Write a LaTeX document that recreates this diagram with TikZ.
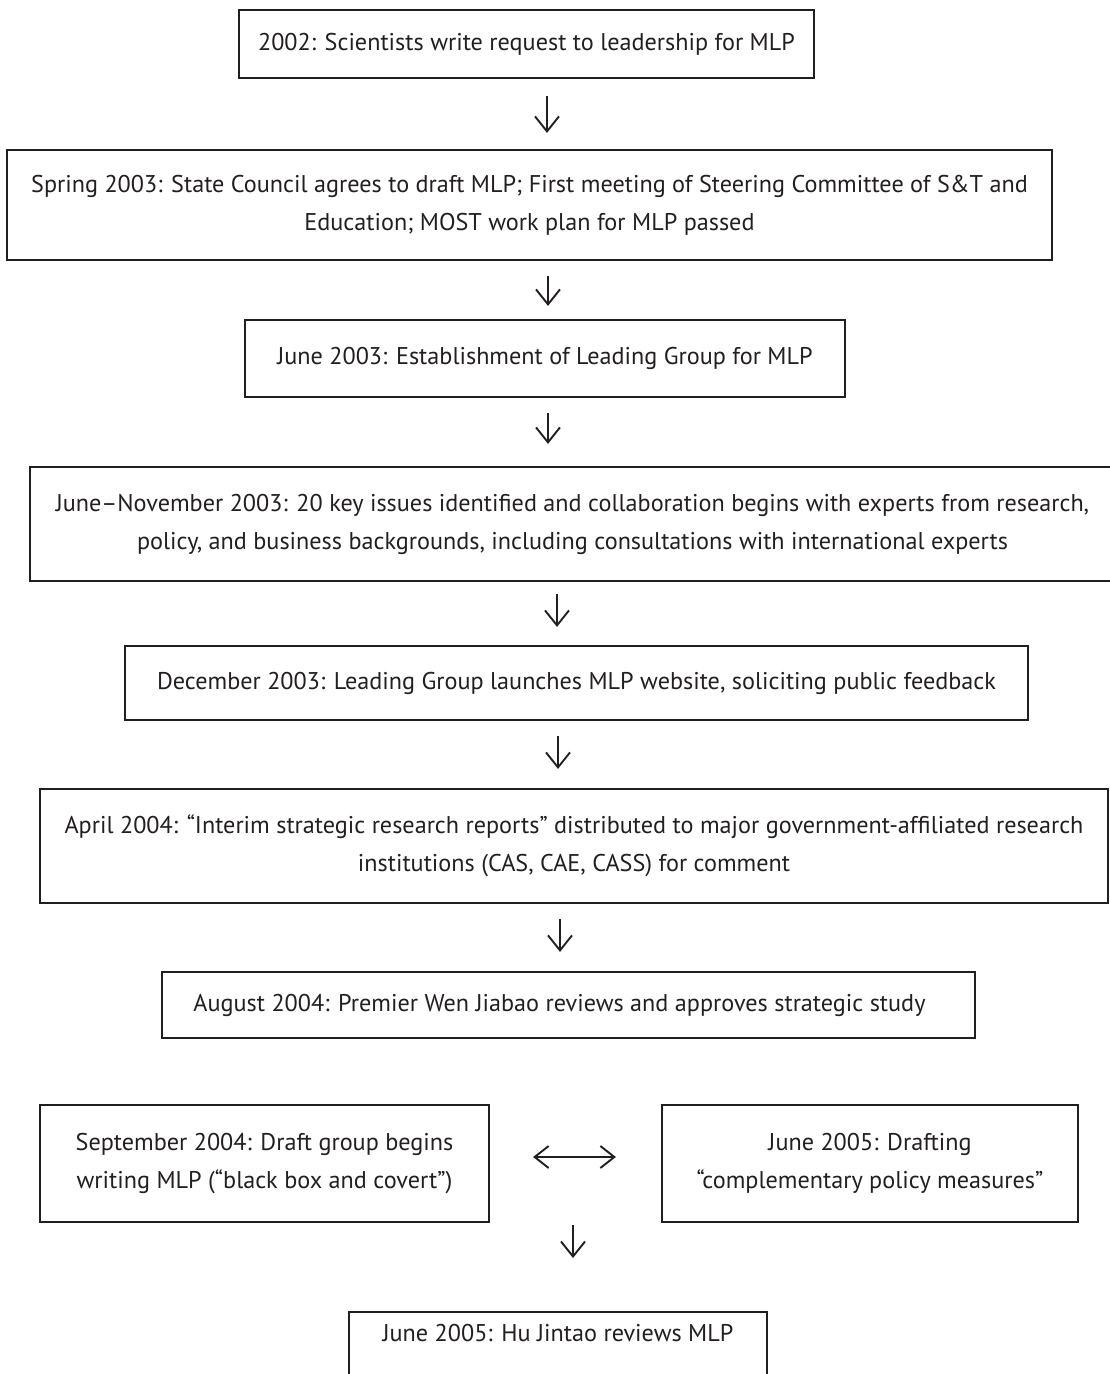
\documentclass[tikz,border=0pt]{standalone}
\usepackage{fontspec}
\setmainfont{PT Sans}
\usetikzlibrary{arrows.meta}
\definecolor{ink}{HTML}{231F20}
\begin{document}
\begin{tikzpicture}[x=1pt,y=-1pt,
  box/.style={draw=ink, line width=2.2pt, text=ink, align=center, inner sep=0pt,
    font=\fontsize{24.2}{38}\selectfont},
  arr/.style={draw=ink, line width=1.9pt, -{Straight Barb[length=15pt,width=24pt,line width=1.9pt]},
    shorten <=15pt, shorten >=18pt},
  dbl/.style={draw=ink, line width=1.9pt, {Straight Barb[length=14pt,width=22pt,line width=1.9pt]}-{Straight Barb[length=14pt,width=22pt,line width=1.9pt]}}
]
\useasboundingbox (0,0) rectangle (1110,1374);
\fill[white] (0,0) rectangle (1110,1374);

\node[box, minimum width=575pt, minimum height=68pt] (b1) at (526.5,44)
  {2002: Scientists write request to leadership for MLP};
\node[box, minimum width=1045pt, minimum height=110pt] (b2) at (529.5,205)
  {Spring 2003: State Council agrees to draft MLP; First meeting of Steering Committee of S\&T and\\Education; MOST work plan for MLP passed};
\node[box, minimum width=600pt, minimum height=77pt] (b3) at (545,358.5)
  {June 2003: Establishment of Leading Group for MLP};
\node[box, minimum width=1085pt, minimum height=114pt] (b4) at (572.5,524)
  {June–November 2003: 20 key issues identified and collaboration begins with experts from research,\\policy, and business backgrounds, including consultations with international experts};
\node[box, minimum width=903pt, minimum height=74pt] (b5) at (576.5,683)
  {December 2003: Leading Group launches MLP website, soliciting public feedback};
\node[box, minimum width=1068pt, minimum height=114pt] (b6) at (574,846)
  {April 2004: “Interim strategic research reports” distributed to major government-affiliated research\\institutions (CAS, CAE, CASS) for comment};
\node[box, minimum width=813pt, minimum height=66pt] (b7) at (568.5,1005)
  {August 2004: Premier Wen Jiabao reviews and approves strategic study\hspace*{18pt}};
\node[box, minimum width=449pt, minimum height=117pt] (b8) at (264.5,1163.5)
  {September 2004: Draft group begins\\writing MLP (“black box and covert”)};
\node[box, minimum width=416pt, minimum height=117pt] (b9) at (870,1163.5)
  {June 2005: Drafting\\“complementary policy measures”};
\node[box, anchor=north, minimum width=418pt, text height=29pt, text depth=70pt] (b10) at (558,1311)
  {June 2005: Hu Jintao reviews MLP};

\coordinate (x1) at (547,0);
\coordinate (x2) at (548,0);
\coordinate (x4) at (557,0);
\coordinate (x5) at (558,0);
\coordinate (x6) at (560,0);
\coordinate (xm) at (573,0);

\draw[arr, shorten <=17pt, shorten >=16pt] (b1.south -| x1) -- (b2.north -| x1);
\draw[arr, shorten <=15pt, shorten >=13pt] (b2.south -| x2) -- (b3.north -| x2);
\draw[arr, shorten <=15pt, shorten >=22pt] (b3.south -| x2) -- (b4.north -| x2);
\draw[arr, shorten <=12pt, shorten >=18pt] (b4.south -| x4) -- (b5.north -| x4);
\draw[arr, shorten <=15pt, shorten >=19pt] (b5.south -| x5) -- (b6.north -| x5);
\draw[arr, shorten <=15pt, shorten >=19pt] (b6.south -| x6) -- (b7.north -| x6);
\draw[dbl, shorten <=43pt, shorten >=45pt] ([yshift=6.5pt]b8.east) -- ([yshift=6.5pt]b9.west);
\draw[arr, shorten <=2pt, shorten >=53pt] (b8.south -| xm) -- (b10.north -| xm);
\end{tikzpicture}
\end{document}
